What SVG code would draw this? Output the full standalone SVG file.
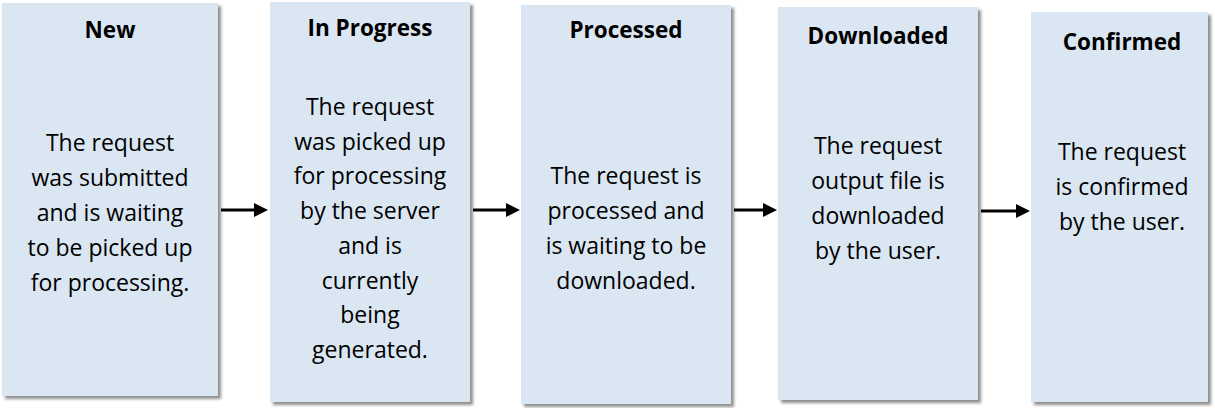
<svg xmlns="http://www.w3.org/2000/svg" width="1215" height="408" viewBox="0 0 1215 408">
  <style>
    .box { fill: #dae6f2; filter: url(#shadow); }
    .title { font-family: "Open Sans", "Liberation Sans", sans-serif; font-weight: bold; font-size: 22.5px; fill: #000; text-anchor: middle; }
    .body { font-family: "Open Sans", "Liberation Sans", sans-serif; font-size: 23px; fill: #000; text-anchor: middle; }
    .conn { stroke: #000; stroke-width: 3; fill: none; marker-end: url(#arrow); }
  </style>
  <defs>
    <filter id="shadow" x="-10%" y="-10%" width="130%" height="130%">
      <feDropShadow dx="3" dy="3" stdDeviation="1.6" flood-color="#7a7a7a" flood-opacity="0.85"/>
    </filter>
    <marker id="arrow" viewBox="0 0 14 14" refX="10" refY="7" markerWidth="14" markerHeight="14" markerUnits="userSpaceOnUse" orient="auto">
      <path d="M0,0 L14,7 L0,14 z" fill="#000"/>
    </marker>
  </defs>
  <rect width="1215" height="408" fill="#fff"/>

  <g id="node-new">
    <rect class="box" x="2" y="3" width="216" height="393"/>
    <text class="title" x="110" y="38">New</text>
    <text class="body" x="110" y="151">The request</text>
    <text class="body" x="110" y="186">was submitted</text>
    <text class="body" x="110" y="221">and is waiting</text>
    <text class="body" x="110" y="256">to be picked up</text>
    <text class="body" x="110" y="291">for processing.</text>
  </g>

  <g id="node-inprogress">
    <rect class="box" x="270" y="2" width="200" height="400"/>
    <text class="title" x="370" y="36">In Progress</text>
    <text class="body" x="370" y="115">The request</text>
    <text class="body" x="370" y="150">was picked up</text>
    <text class="body" x="370" y="184">for processing</text>
    <text class="body" x="370" y="219">by the server</text>
    <text class="body" x="370" y="254">and is</text>
    <text class="body" x="370" y="289">currently</text>
    <text class="body" x="370" y="323">being</text>
    <text class="body" x="370" y="358">generated.</text>
  </g>

  <g id="node-processed">
    <rect class="box" x="521" y="5" width="210" height="399"/>
    <text class="title" x="626" y="38">Processed</text>
    <text class="body" x="626" y="184">The request is</text>
    <text class="body" x="626" y="219">processed and</text>
    <text class="body" x="626" y="254">is waiting to be</text>
    <text class="body" x="626" y="289">downloaded.</text>
  </g>

  <g id="node-downloaded">
    <rect class="box" x="778" y="7" width="200" height="393"/>
    <text class="title" x="878" y="44">Downloaded</text>
    <text class="body" x="878" y="154">The request</text>
    <text class="body" x="878" y="189">output file is</text>
    <text class="body" x="878" y="224">downloaded</text>
    <text class="body" x="878" y="259">by the user.</text>
  </g>

  <g id="node-confirmed">
    <rect class="box" x="1031" y="12" width="177" height="390"/>
    <text class="title" x="1122" y="50">Confirmed</text>
    <text class="body" x="1122" y="160">The request</text>
    <text class="body" x="1122" y="195">is confirmed</text>
    <text class="body" x="1122" y="230">by the user.</text>
  </g>

  <g id="connectors">
    <line class="conn" x1="221" y1="210" x2="264" y2="210"/>
    <line class="conn" x1="473" y1="210" x2="516" y2="210"/>
    <line class="conn" x1="734" y1="210" x2="773" y2="210"/>
    <line class="conn" x1="981" y1="211" x2="1026" y2="211"/>
  </g>
</svg>
